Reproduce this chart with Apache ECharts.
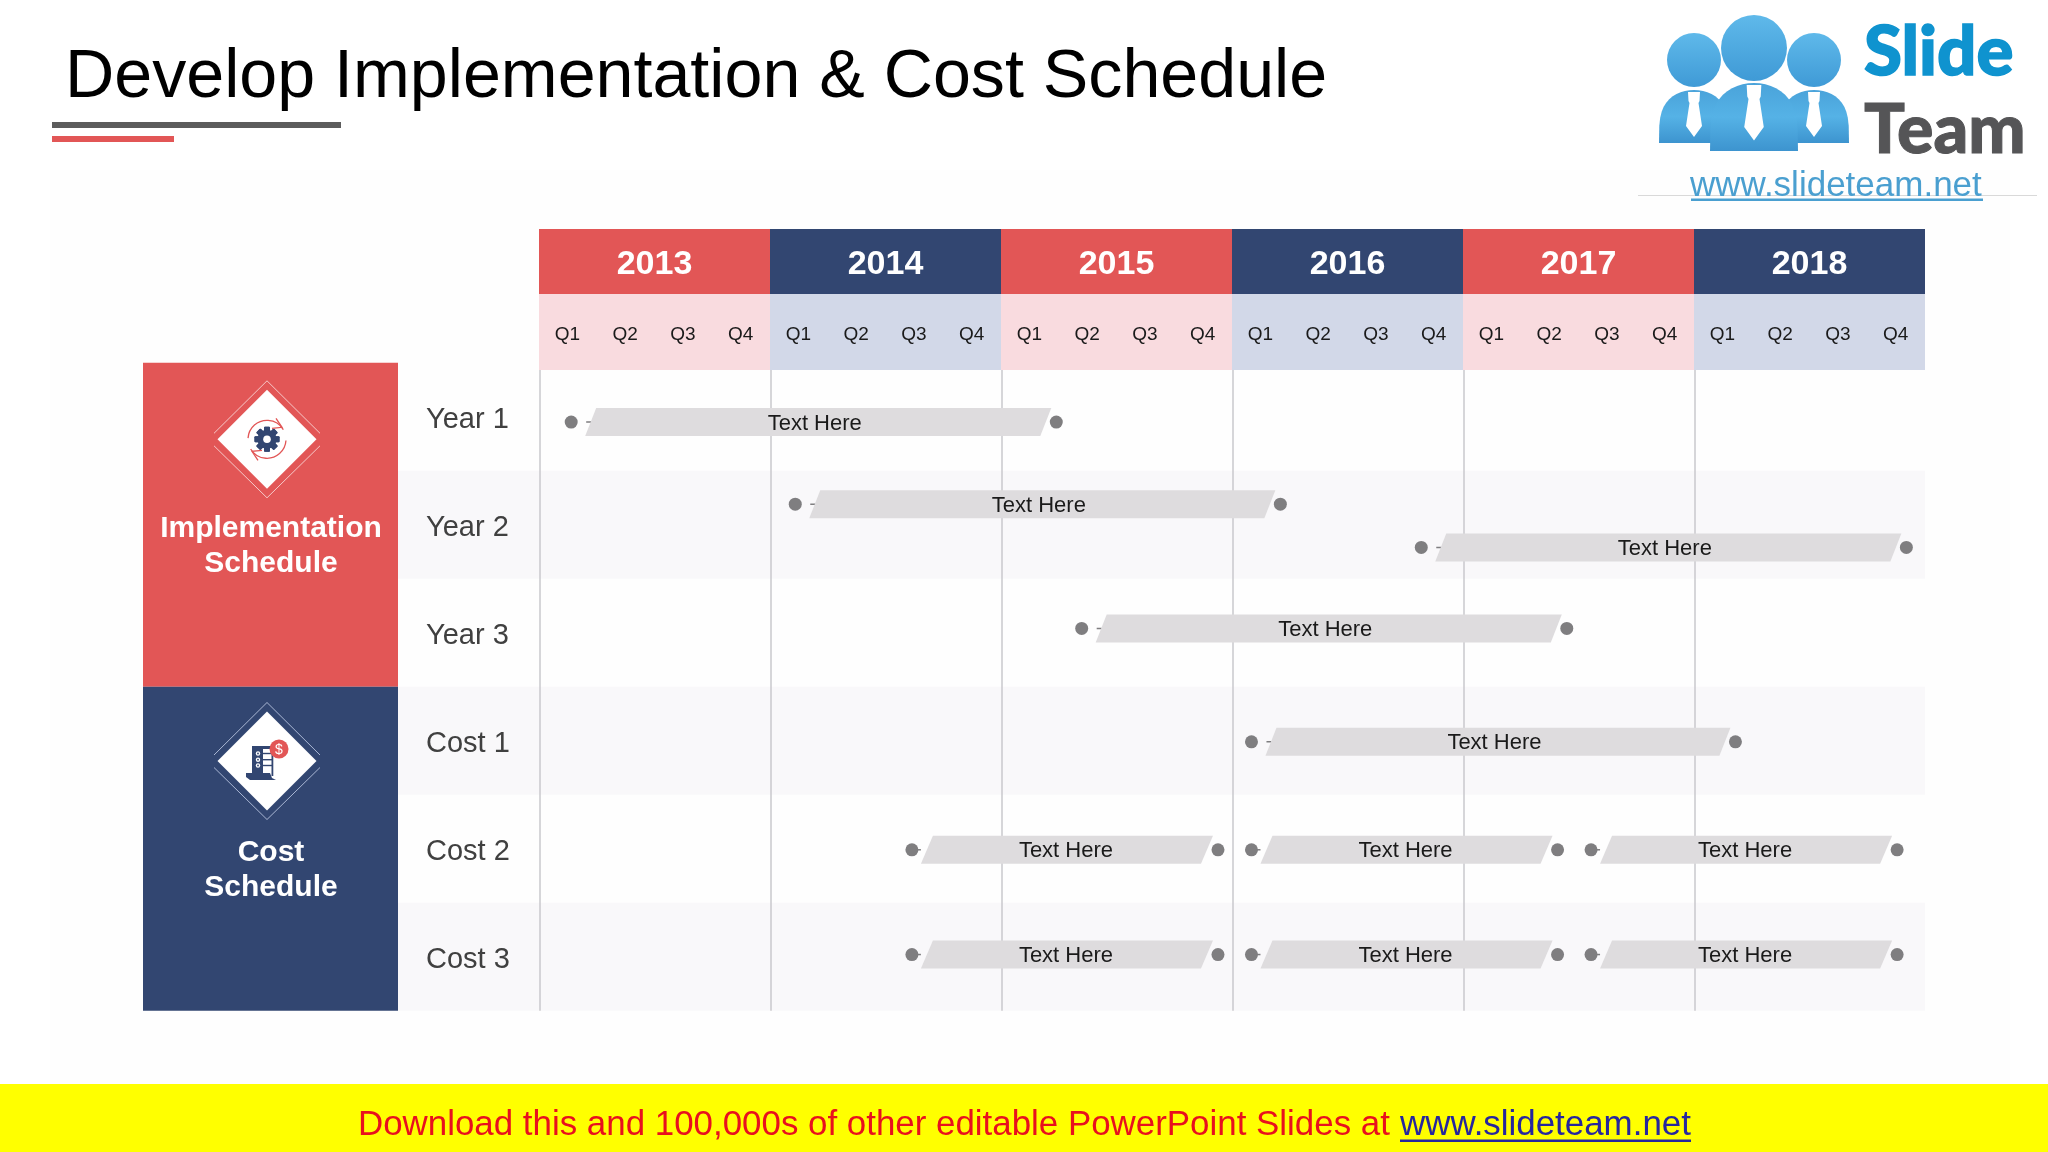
<!DOCTYPE html>
<html>
<head>
<meta charset="utf-8">
<title>Develop Implementation & Cost Schedule</title>
<style>
  html, body { margin: 0; padding: 0; background: #fff; }
  #chartArea { width: 2048px; height: 1152px; }
</style>
<script src="https://cdn.jsdelivr.net/npm/echarts@6/dist/echarts.min.js"></script>
</head>
<body>
<div id="chartArea"></div>
<script>
var years = ['2013', '2014', '2015', '2016', '2017', '2018'];
var quarters = ['Q1', 'Q2', 'Q3', 'Q4'];
var rows = ['Year 1', 'Year 2', 'Year 3', 'Cost 1', 'Cost 2', 'Cost 3'];

// row position (in rows from the top), start, end
var taskRow = [0.55, 1.31, 1.71, 2.46, 3.51, 4.51, 4.51, 4.51, 5.48, 5.48, 5.48];
var taskStart = [2013.135, 2014.105, 2016.815, 2015.345, 2016.08, 2014.61, 2016.08, 2017.55, 2014.61, 2016.08, 2017.55];
var taskEnd = [2015.235, 2016.205, 2018.915, 2017.445, 2018.175, 2015.935, 2017.405, 2018.875, 2015.935, 2017.405, 2018.875];
var taskText = ['Text Here', 'Text Here', 'Text Here', 'Text Here', 'Text Here', 'Text Here', 'Text Here', 'Text Here', 'Text Here', 'Text Here', 'Text Here'];

var RED = '#e25656';
var NAVY = '#324671';
var FONT = '"Liberation Sans", Arial, sans-serif';

var myChart = echarts.init(document.getElementById('chartArea'));

var quarterCats = [];
var quarterBars = [];
years.forEach(function(y) {
    quarters.forEach(function(q) {
        quarterCats.push(y + ' ' + q);
        quarterBars.push({ value: 1, label: { formatter: q } });
    });
});

var yearBars = years.map(function(y, i) {
    return { value: 1, itemStyle: { color: i % 2 ? NAVY : RED } };
});
var yearBands = years.map(function(y, i) {
    return { value: 1, itemStyle: { color: i % 2 ? '#d2d8e8' : '#f9dbdf' } };
});

var taskData = taskRow.map(function(r, i) {
    return [taskStart[i], taskEnd[i], r, taskText[i]];
});

function renderTask(params, api) {
    var a = api.coord([api.value(0), api.value(2)]);
    var b = api.coord([api.value(1), api.value(2)]);
    var x0 = a[0], x1 = b[0], y = a[1];
    var long = api.value(1) - api.value(0) > 1.5;
    var bl = x0 + (long ? 14 : 9);
    var skew = long ? 11 : 12;
    var tr = x1 - 5;
    var h = 14;
    return {
        type: 'group',
        children: [
            {
                type: 'line',
                shape: { x1: x0, y1: y, x2: bl + 6, y2: y },
                style: { stroke: '#7f7e80', lineWidth: 1.5, lineDash: long ? [0, 15, 6, 100] : [9, 100] }
            },
            {
                type: 'polygon',
                shape: { points: [[bl, y + h], [bl + skew, y - h], [tr, y - h], [tr - skew, y + h]] },
                style: { fill: '#dedcde' }
            },
            {
                type: 'circle',
                shape: { cx: x0, cy: y, r: 6.5 },
                style: { fill: '#7f7e80' }
            },
            {
                type: 'circle',
                shape: { cx: x1, cy: y, r: 6.5 },
                style: { fill: '#7f7e80' }
            },
            {
                type: 'text',
                style: {
                    x: (x0 + x1) / 2 + 1, y: y + 1.5,
                    text: api.value(3),
                    fill: '#1a1a1a',
                    font: '22px ' + FONT,
                    align: 'center',
                    verticalAlign: 'middle'
                }
            }
        ]
    };
}

// decoration: title rules, side panels, icons, logo, footer
function txt(x, y, text, size, color, weight, align, family, stroke) {
    return {
        type: 'text',
        x: x, y: y,
        style: {
            text: text,
            fill: color,
            stroke: stroke ? color : null,
            lineWidth: stroke || 0,
            font: (weight || 'normal') + ' ' + size + 'px ' + (family || FONT),
            textAlign: align || 'left',
            textVerticalAlign: 'middle'
        }
    };
}
function rect(x, y, w, h, color) {
    return { type: 'rect', shape: { x: x, y: y, width: w, height: h }, style: { fill: color } };
}
function diamond(cx, cy, chevron) {
    return [
        { type: 'polygon', shape: { points: [[cx, cy - 49.5], [cx + 49.5, cy], [cx, cy + 49.5], [cx - 49.5, cy]] }, style: { fill: '#fff' } },
        { type: 'polyline', shape: { points: [[cx - 53, cy - 6], [cx, cy - 58.5], [cx + 53, cy - 6]] }, style: { stroke: chevron, lineWidth: 1, fill: null } },
        { type: 'polyline', shape: { points: [[cx - 53, cy + 6.5], [cx, cy + 58.5], [cx + 53, cy + 6.5]] }, style: { stroke: chevron, lineWidth: 1, fill: null } }
    ];
}
function gear(cx, cy) {
    var out = [];
    for (var i = 0; i < 8; i++) {
        out.push({
            type: 'rect', x: cx, y: cy, rotation: i * Math.PI / 4,
            shape: { x: -3, y: -12.5, width: 6, height: 25, r: 1 }, style: { fill: NAVY }
        });
    }
    out.push({ type: 'circle', shape: { cx: cx, cy: cy, r: 9.5 }, style: { fill: NAVY } });
    out.push({ type: 'circle', shape: { cx: cx, cy: cy, r: 3.8 }, style: { fill: '#fff' } });
    var ring = { stroke: RED, lineWidth: 1.3, fill: null };
    out.push({ type: 'arc', shape: { cx: cx, cy: cy, r: 19, startAngle: Math.PI * 1.02, endAngle: Math.PI * 1.83 }, style: ring });
    out.push({ type: 'arc', shape: { cx: cx, cy: cy, r: 19, startAngle: Math.PI * 0.02, endAngle: Math.PI * 0.83 }, style: ring });
    out.push({ type: 'polyline', shape: { points: [[cx + 9, cy - 21], [cx + 15, cy - 12], [cx + 5, cy - 11]] }, style: ring });
    out.push({ type: 'polyline', shape: { points: [[cx - 9, cy + 21], [cx - 15, cy + 12], [cx - 5, cy + 11]] }, style: ring });
    return out;
}
function doc() {
    var out = [
        rect(252, 746, 11, 29, NAVY),
        rect(252, 746, 21, 3, NAVY),
        rect(271.5, 746, 1.8, 30, NAVY),
        { type: 'polygon', shape: { points: [[246, 773], [270, 773], [272, 778], [276, 780], [250, 780], [246, 777]] }, style: { fill: NAVY } }
    ];
    [753.5, 759.7, 765.5].forEach(function(y) {
        out.push({ type: 'circle', shape: { cx: 258, cy: y, r: 2.2 }, style: { fill: '#fff' } });
        out.push({ type: 'circle', shape: { cx: 258, cy: y, r: 0.9 }, style: { fill: NAVY } });
        out.push(rect(263, y - 0.7, 9, 1.4, NAVY));
    });
    out.push({ type: 'circle', shape: { cx: 279, cy: 749, r: 9.5 }, style: { fill: RED } });
    out.push(txt(279, 750.5, '$', 14, '#fff', 'normal', 'center'));
    return out;
}
function person(cx, headY, r, bodyTop, bodyBottom, halfW, z) {
    var pts = [];
    var n = 24;
    for (var i = 0; i <= n; i++) {
        var t = Math.PI * i / n;
        pts.push([
            cx - halfW * Math.cos(t),
            bodyBottom - (bodyBottom - bodyTop) * Math.pow(Math.sin(t), 0.55)
        ]);
    }
    var grad = new echarts.graphic.LinearGradient(0, 0, 0, 1, [
        { offset: 0, color: '#4aa3da' }, { offset: 0.5, color: '#55b2e6' }, { offset: 1, color: '#3d94cf' }
    ]);
    var head = new echarts.graphic.LinearGradient(0, 0, 0, 1, [
        { offset: 0, color: '#5fb9ea' }, { offset: 1, color: '#3f9ad6' }
    ]);
    var s = r / 27;
    return [
        { type: 'circle', z: z, shape: { cx: cx, cy: headY, r: r }, style: { fill: head } },
        { type: 'polygon', z: z, shape: { points: pts }, style: { fill: grad } },
        {
            type: 'polygon', z: z,
            shape: { points: [[cx - 6 * s, bodyTop + 2], [cx + 6 * s, bodyTop + 2], [cx + 5.5 * s, bodyTop + 11 * s], [cx + 4.5 * s, bodyTop + 13 * s], [cx + 8 * s, bodyTop + 36 * s], [cx, bodyTop + 47 * s], [cx - 8 * s, bodyTop + 36 * s], [cx - 4.5 * s, bodyTop + 13 * s], [cx - 5.5 * s, bodyTop + 11 * s]] },
            style: { fill: '#fff' }
        }
    ];
}

var decoration = [
    rect(50, 170, 1960, 914, '#fefefe'),
    rect(52, 122, 289, 6, '#5c5c5c'),
    rect(52, 136, 122, 6, RED),
    txt(65, 78, 'Develop Implementation & Cost Schedule', 68.2, '#000'),
    rect(143, 362.7, 255, 324, RED),
    rect(143, 686.7, 255, 324, NAVY)
];
var overlay = [].concat(
    diamond(267, 439.3, '#f6c9c9'),
    gear(267, 439.3),
    diamond(267, 761, '#a9b6d3'),
    doc(),
    [
        txt(271, 528.5, 'Implementation', 30, '#fff', 'bold', 'center'),
        txt(271, 564, 'Schedule', 30, '#fff', 'bold', 'center'),
        txt(271, 852.5, 'Cost', 30, '#fff', 'bold', 'center'),
        txt(271, 888, 'Schedule', 30, '#fff', 'bold', 'center'),
        rect(1638, 195, 399, 1, '#d9d9d9')
    ],
    person(1694, 60, 27, 90, 143, 35, 60),
    person(1814, 60, 27, 90, 143, 35, 60),
    person(1754, 48, 33, 83, 151, 44, 61),
    [
        txt(1864, 53, 'Slide', 69, '#0f93cf', '900', 'left', 'Lato', 1.5),
        txt(1864, 131, 'Team', 68, '#555557', '900', 'left', 'Lato', 1),
        txt(1690, 186.5, 'www.slideteam.net', 35, '#4a9fd0'),
        rect(1691, 198.5, 292, 2.5, '#4a9fd0'),
        rect(0, 1084, 2048, 68, '#ffff00'),
        txt(358, 1125.5, 'Download this and 100,000s of other editable PowerPoint Slides at ', 34.9, '#e8101e'),
        txt(1400, 1125.5, 'www.slideteam.net', 34.9, '#26269e'),
        rect(1400, 1139.5, 291, 2.5, '#26269e')
    ]
);
decoration.forEach(function(el) { el.z = -10; });
overlay.forEach(function(el) { if (el.z === undefined) el.z = 50; });

var option = {
    animation: false,
    backgroundColor: '#fff',
    textStyle: { fontFamily: FONT },
    graphic: { elements: decoration.concat(overlay) },
    grid: [
        { left: 398, right: 123, top: 362.7, bottom: 141.3 },   // row stripes
        { left: 540, right: 122, top: 362.7, bottom: 141.3 },   // gantt bars
        { left: 539, right: 123, top: 229, height: 65 },        // years
        { left: 539, right: 123, top: 294, height: 76 },        // quarters
        { left: 398, right: 123, top: 366, bottom: 138 }        // row names, text sits a little low
    ],
    xAxis: [
        { gridIndex: 0, type: 'value', min: 0, max: 1, show: false },
        {
            gridIndex: 1, type: 'value', min: 2013, max: 2019, interval: 1,
            axisLine: { show: false }, axisTick: { show: false }, axisLabel: { show: false },
            splitLine: { show: true, showMaxLine: false, lineStyle: { color: '#c9c8cc', width: 1.5 } }
        },
        { gridIndex: 2, type: 'category', data: years, show: false },
        { gridIndex: 3, type: 'category', data: quarterCats, show: false },
        { gridIndex: 3, type: 'category', data: years, show: false },
        { gridIndex: 4, type: 'value', min: 0, max: 1, show: false }
    ],
    yAxis: [
        {
            gridIndex: 0, type: 'category', data: rows, inverse: true,
            axisLine: { show: false }, axisTick: { show: false }, axisLabel: { show: false },
            splitLine: { show: false },
            splitArea: { show: true, areaStyle: { color: ['rgba(255,255,255,0)', '#f9f8fa'] } }
        },
        { gridIndex: 1, type: 'value', min: 0, max: 6, inverse: true, show: false, splitLine: { show: false } },
        { gridIndex: 2, type: 'value', min: 0, max: 1, show: false },
        { gridIndex: 3, type: 'value', min: 0, max: 1, show: false },
        {
            gridIndex: 4, type: 'category', data: rows, inverse: true,
            axisLine: { show: false }, axisTick: { show: false },
            axisLabel: { inside: true, margin: 28, fontSize: 29, color: '#404040', fontFamily: FONT },
            splitLine: { show: false }
        }
    ],
    series: [
        {
            type: 'custom',
            name: 'Schedule',
            xAxisIndex: 1,
            yAxisIndex: 1,
            data: taskData,
            encode: { x: [0, 1], y: 2 },
            renderItem: renderTask,
            clip: false,
            z: 5
        },
        {
            type: 'bar',
            name: 'Years',
            xAxisIndex: 2,
            yAxisIndex: 2,
            data: yearBars,
            barWidth: '100%',
            label: {
                show: true,
                position: 'inside',
                offset: [0, 3.5],
                formatter: '{b}',
                color: '#fff',
                fontSize: 34,
                fontWeight: 'bold',
                fontFamily: FONT
            },
            z: 6
        },
        {
            type: 'bar',
            name: 'Year bands',
            xAxisIndex: 4,
            yAxisIndex: 3,
            data: yearBands,
            barWidth: '100%',
            z: 6
        },
        {
            type: 'bar',
            name: 'Quarters',
            xAxisIndex: 3,
            yAxisIndex: 3,
            data: quarterBars,
            barWidth: '100%',
            itemStyle: { color: 'rgba(0,0,0,0)' },
            label: {
                show: true,
                position: 'inside',
                offset: [-0.5, 2.6],
                color: '#1a1a1a',
                fontSize: 19,
                fontFamily: FONT
            },
            z: 7
        }
    ]
};
myChart.setOption(option);
</script>
</body>
</html>
